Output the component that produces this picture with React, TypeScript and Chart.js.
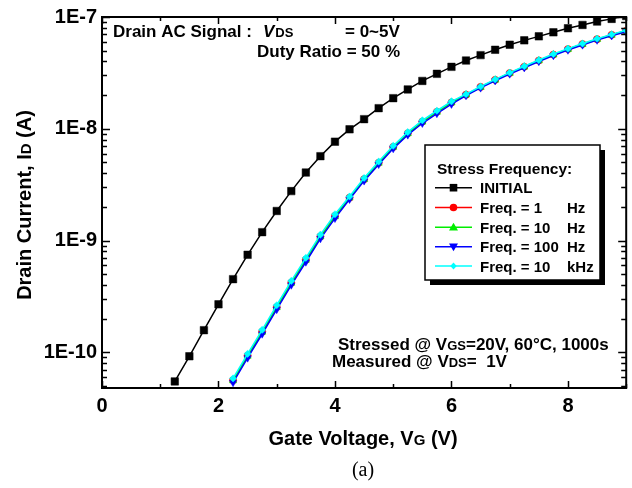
import React, { useEffect, useRef } from 'react';
import { Chart, registerables } from 'chart.js';

Chart.register(...registerables);

const SANS = '"Liberation Sans", Arial, Helvetica, sans-serif';
const SERIF = '"Liberation Serif", "Times New Roman", serif';

// ---- data ----
const vgInitial = [1.25, 1.5, 1.75, 2.0, 2.25, 2.5, 2.75, 3.0, 3.25, 3.5, 3.75, 4.0, 4.25, 4.5, 4.75, 5.0,
  5.25, 5.5, 5.75, 6.0, 6.25, 6.5, 6.75, 7.0, 7.25, 7.5, 7.75, 8.0, 8.25, 8.5, 8.75, 9.0];
const idInitial = [5.5e-11, 9.23e-11, 1.58e-10, 2.69e-10, 4.52e-10, 7.46e-10, 1.19e-9, 1.84e-9, 2.77e-9, 4.06e-9,
  5.69e-9, 7.67e-9, 9.89e-9, 1.22e-8, 1.53e-8, 1.88e-8, 2.25e-8, 2.68e-8, 3.1e-8, 3.58e-8, 4.08e-8, 4.56e-8,
  5.09e-8, 5.65e-8, 6.18e-8, 6.71e-8, 7.29e-8, 7.93e-8, 8.49e-8, 9.1e-8, 9.62e-8, 1.02e-7];

const vgStress = [2.25, 2.5, 2.75, 3.0, 3.25, 3.5, 3.75, 4.0, 4.25, 4.5, 4.75, 5.0, 5.25, 5.5, 5.75, 6.0,
  6.25, 6.5, 6.75, 7.0, 7.25, 7.5, 7.75, 8.0, 8.25, 8.5, 8.75, 9.0];
const idFreq1Hz = [5.64e-11, 9.36e-11, 1.53e-10, 2.54e-10, 4.2e-10, 6.75e-10, 1.09e-9, 1.66e-9, 2.42e-9, 3.54e-9,
  4.97e-9, 6.88e-9, 9.12e-9, 1.16e-8, 1.42e-8, 1.72e-8, 2.02e-8, 2.37e-8, 2.74e-8, 3.15e-8, 3.59e-8, 4.08e-8,
  4.61e-8, 5.16e-8, 5.73e-8, 6.33e-8, 6.93e-8, 7.53e-8];
const idFreq10Hz = [5.58e-11, 9.27e-11, 1.52e-10, 2.52e-10, 4.16e-10, 6.69e-10, 1.08e-9, 1.64e-9, 2.41e-9, 3.52e-9,
  4.94e-9, 6.85e-9, 9.07e-9, 1.15e-8, 1.41e-8, 1.71e-8, 2.01e-8, 2.35e-8, 2.73e-8, 3.14e-8, 3.57e-8, 4.06e-8,
  4.59e-8, 5.14e-8, 5.7e-8, 6.3e-8, 6.89e-8, 7.49e-8];
const idFreq100Hz = [5.37e-11, 8.91e-11, 1.46e-10, 2.42e-10, 4.0e-10, 6.43e-10, 1.04e-9, 1.58e-9, 2.34e-9, 3.42e-9,
  4.8e-9, 6.65e-9, 8.81e-9, 1.12e-8, 1.37e-8, 1.66e-8, 1.98e-8, 2.32e-8, 2.69e-8, 3.09e-8, 3.52e-8, 4.0e-8,
  4.52e-8, 5.06e-8, 5.62e-8, 6.21e-8, 6.79e-8, 7.38e-8];
const idFreq10kHz = [5.85e-11, 9.71e-11, 1.59e-10, 2.64e-10, 4.36e-10, 7.01e-10, 1.13e-9, 1.72e-9, 2.48e-9, 3.63e-9,
  5.09e-9, 7.05e-9, 9.34e-9, 1.19e-8, 1.45e-8, 1.76e-8, 2.04e-8, 2.39e-8, 2.77e-8, 3.18e-8, 3.63e-8, 4.12e-8,
  4.66e-8, 5.21e-8, 5.79e-8, 6.4e-8, 6.99e-8, 7.6e-8];

const xTickValues = [0, 2, 4, 6, 8];
const yTickValues = [1e-10, 1e-9, 1e-8, 1e-7];
const xMin = 0;
const xMax = 9;
const yMin = 4.8e-11;
const yMax = 1e-7;

const legendTitle = 'Stress Frequency:';
const legendNames = ['INITIAL', 'Freq. = 1', 'Freq. = 10', 'Freq. = 100', 'Freq. = 10'];
const legendUnits = ['', 'Hz', 'Hz', 'Hz', 'kHz'];
const seriesColors = ['#000000', '#ff0000', '#00ee00', '#0000ff', '#00ffff'];
const seriesMarkers = ['square', 'circle', 'triangle', 'down', 'diamond'];

type Seg = { t: string; f: string };

function segWidth(ctx: CanvasRenderingContext2D, segs: Seg[]) {
  let w = 0;
  for (const s of segs) { ctx.font = s.f; w += ctx.measureText(s.t).width; }
  return w;
}
function drawSegs(ctx: CanvasRenderingContext2D, x: number, y: number, segs: Seg[]) {
  let cx = x;
  ctx.textAlign = 'left';
  ctx.textBaseline = 'alphabetic';
  for (const s of segs) {
    ctx.font = s.f;
    ctx.fillText(s.t, cx, y);
    cx += ctx.measureText(s.t).width;
  }
  return cx;
}

function drawMarker(ctx: CanvasRenderingContext2D, kind: string, x: number, y: number, color: string) {
  ctx.save();
  ctx.fillStyle = color;
  ctx.beginPath();
  if (kind === 'square') {
    ctx.rect(x - 3.8, y - 3.8, 7.6, 7.6);
  } else if (kind === 'circle') {
    ctx.arc(x, y, 3.8, 0, Math.PI * 2);
  } else if (kind === 'triangle') {
    ctx.moveTo(x, y - 4.5); ctx.lineTo(x + 4.5, y + 3.2); ctx.lineTo(x - 4.5, y + 3.2); ctx.closePath();
  } else if (kind === 'down') {
    ctx.moveTo(x, y + 4.5); ctx.lineTo(x + 4.5, y - 3.2); ctx.lineTo(x - 4.5, y - 3.2); ctx.closePath();
  } else {
    ctx.moveTo(x, y - 3.6); ctx.lineTo(x + 3.2, y); ctx.lineTo(x, y + 3.6); ctx.lineTo(x - 3.2, y); ctx.closePath();
  }
  ctx.fill();
  ctx.restore();
}

const decor = {
  id: 'decor',
  afterDatasetsDraw(chart: any) {
    const ctx: CanvasRenderingContext2D = chart.ctx;
    const a = chart.chartArea;
    const xs = chart.scales.x;
    const ys = chart.scales.y;
    ctx.save();
    ctx.strokeStyle = '#000';
    ctx.lineWidth = 2;
    ctx.strokeRect(a.left, a.top, a.right - a.left, a.bottom - a.top);
    ctx.lineWidth = 1.5;
    ctx.beginPath();
    for (let v = xMin; v <= xMax; v += 1) {
      const px = Math.round(xs.getPixelForValue(v)) + 0.5;
      const len = v % 2 === 0 ? 7 : 4;
      ctx.moveTo(px, a.bottom); ctx.lineTo(px, a.bottom - len);
      ctx.moveTo(px, a.top); ctx.lineTo(px, a.top + len);
    }
    for (let e = -11; e <= -7; e++) {
      for (let k = 1; k <= 9; k++) {
        const val = k * Math.pow(10, e);
        if (val < yMin * 0.999 || val > yMax * 1.001) continue;
        const py = Math.round(ys.getPixelForValue(val)) + 0.5;
        const len = k === 1 ? 8 : 5;
        ctx.moveTo(a.left, py); ctx.lineTo(a.left + len, py);
        ctx.moveTo(a.right, py); ctx.lineTo(a.right - len, py);
      }
    }
    ctx.stroke();
    ctx.restore();
  },
  afterDraw(chart: any) {
    const ctx: CanvasRenderingContext2D = chart.ctx;
    ctx.save();
    ctx.fillStyle = '#000';
    const b17 = `bold 17px ${SANS}`;
    const b13 = `bold 13px ${SANS}`;
    const bi17 = `italic bold 17px ${SANS}`;

    // top-left annotation
    drawSegs(ctx, 113, 37, [{ t: 'Drain AC Signal :', f: b17 }]);
    const vx = drawSegs(ctx, 263, 37, [{ t: 'V', f: bi17 }]);
    drawSegs(ctx, vx + 1, 37, [{ t: 'DS', f: b13 }]);
    drawSegs(ctx, 345, 37, [{ t: '= 0~5V', f: b17 }]);
    drawSegs(ctx, 257, 57, [{ t: 'Duty Ratio = 50 %', f: b17 }]);

    // bottom-right annotation
    drawSegs(ctx, 338, 350, [
      { t: 'Stressed @ V', f: b17 }, { t: 'GS', f: b13 }, { t: '=20V, 60\u00B0C, 1000s', f: b17 },
    ]);
    drawSegs(ctx, 332, 367, [
      { t: 'Measured @ V', f: b17 }, { t: 'DS', f: b13 }, { t: '=  1V', f: b17 },
    ]);

    // axis titles
    const b20 = `bold 20px ${SANS}`;
    const b15 = `bold 15px ${SANS}`;
    const xt: Seg[] = [{ t: 'Gate Voltage, V', f: b20 }, { t: 'G', f: b15 }, { t: ' (V)', f: b20 }];
    const xw = segWidth(ctx, xt);
    drawSegs(ctx, 363 - xw / 2, 445, xt);

    const yt: Seg[] = [{ t: 'Drain Current, I', f: b20 }, { t: 'D', f: b15 }, { t: ' (A)', f: b20 }];
    const yw = segWidth(ctx, yt);
    ctx.save();
    ctx.translate(31, 205);
    ctx.rotate(-Math.PI / 2);
    drawSegs(ctx, -yw / 2, 0, yt);
    ctx.restore();

    ctx.font = `20px ${SERIF}`;
    ctx.textAlign = 'center';
    ctx.fillText('(a)', 363, 476);

    // legend
    const lx = 425, ly = 145, lw = 175, lh = 135;
    ctx.fillStyle = '#000';
    ctx.fillRect(lx + 5, ly + 5, lw, lh);
    ctx.fillStyle = '#fff';
    ctx.fillRect(lx, ly, lw, lh);
    ctx.strokeStyle = '#000';
    ctx.lineWidth = 1.5;
    ctx.strokeRect(lx, ly, lw, lh);
    ctx.fillStyle = '#000';
    drawSegs(ctx, 437, 174, [{ t: legendTitle, f: `bold 15.5px ${SANS}` }]);
    const b15l = `bold 15px ${SANS}`;
    const rows = [187.7, 207.5, 227.2, 246.7, 266];
    for (let i = 0; i < legendNames.length; i++) {
      const cy = rows[i];
      ctx.strokeStyle = seriesColors[i];
      ctx.lineWidth = 1.5;
      ctx.beginPath();
      ctx.moveTo(435, cy); ctx.lineTo(472, cy);
      ctx.stroke();
      drawMarker(ctx, seriesMarkers[i], 453.5, cy, seriesColors[i]);
      ctx.fillStyle = '#000';
      drawSegs(ctx, 480, cy + 5.5, [{ t: legendNames[i], f: b15l }]);
      if (legendUnits[i]) drawSegs(ctx, 567, cy + 5.5, [{ t: legendUnits[i], f: b15l }]);
    }
    ctx.restore();
  },
};

function pairs(xs: number[], ys: number[]) {
  return xs.map((x, i) => ({ x, y: ys[i] }));
}

export default function App() {
  const ref = useRef<HTMLCanvasElement | null>(null);
  useEffect(() => {
    document.body.style.margin = '0';
    const canvas = ref.current;
    if (!canvas) return;
    const common = { borderWidth: 1.5, tension: 0, pointBorderWidth: 0.5, fill: false };
    const chart = new Chart(canvas, {
      type: 'line',
      data: {
        datasets: [
          { label: 'INITIAL', data: pairs(vgInitial, idInitial), borderColor: seriesColors[0], backgroundColor: seriesColors[0],
            pointStyle: 'rect', pointRadius: 5.3, order: 0, ...common },
          { label: 'Freq. = 1 Hz', data: pairs(vgStress, idFreq1Hz), borderColor: seriesColors[1], backgroundColor: seriesColors[1],
            pointStyle: 'circle', pointRadius: 3.6, order: 4, ...common },
          { label: 'Freq. = 10 Hz', data: pairs(vgStress, idFreq10Hz), borderColor: seriesColors[2], backgroundColor: seriesColors[2],
            pointStyle: 'triangle', pointRadius: 4.2, order: 3, ...common },
          { label: 'Freq. = 100 Hz', data: pairs(vgStress, idFreq100Hz), borderColor: seriesColors[3], backgroundColor: seriesColors[3],
            pointStyle: 'triangle', pointRotation: 180, pointRadius: 4.2, order: 2, ...common },
          { label: 'Freq. = 10 kHz', data: pairs(vgStress, idFreq10kHz), borderColor: seriesColors[4], backgroundColor: seriesColors[4],
            pointStyle: 'rectRot', pointRadius: 3.6, order: 1, ...common },
        ],
      },
      options: {
        responsive: false,
        devicePixelRatio: 1,
        animation: false,
        events: [],
        layout: { padding: { top: 13, right: 5, left: 0, bottom: 0 } },
        plugins: { legend: { display: false }, tooltip: { enabled: false }, title: { display: false } },
        scales: {
          x: {
            type: 'linear', min: xMin, max: xMax,
            grid: { display: false, drawTicks: false }, border: { display: false },
            ticks: { color: '#000', font: { family: SANS, size: 20, weight: 'bold' }, padding: 6, maxRotation: 0, autoSkip: false },
            afterBuildTicks: (s: any) => { s.ticks = xTickValues.map((v) => ({ value: v })); },
            afterFit: (s: any) => { s.height = 100; },
          },
          y: {
            type: 'logarithmic', min: yMin, max: yMax,
            grid: { display: false, drawTicks: false }, border: { display: false },
            ticks: {
              color: '#000', font: { family: SANS, size: 20, weight: 'bold' }, padding: 5, autoSkip: false,
              callback: (v: any) => '1E' + Math.round(Math.log10(Number(v))),
            },
            afterBuildTicks: (s: any) => { s.ticks = yTickValues.map((v) => ({ value: v })); },
            afterFit: (s: any) => { s.width = 102; },
          },
        },
      },
      plugins: [decor],
    } as any);
    return () => chart.destroy();
  }, []);
  return (
    <div style={{ position: 'fixed', left: 0, top: 0, width: 632, height: 488, background: '#fff' }}>
      <canvas ref={ref} width={632} height={488} style={{ display: 'block', width: 632, height: 488 }} />
    </div>
  );
}
